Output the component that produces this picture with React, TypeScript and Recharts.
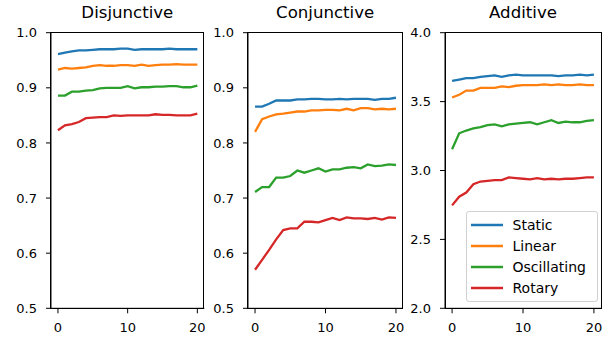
import React from "react";
import { LineChart, Line, XAxis, YAxis } from "recharts";

const steps = [0, 1, 2, 3, 4, 5, 6, 7, 8, 9, 10, 11, 12, 13, 14, 15, 16, 17, 18, 19, 20];
const seriesNames = ["Static", "Linear", "Oscillating", "Rotary"];
const colors = ["#1f77b4", "#ff7f0e", "#2ca02c", "#d62728"];

const disjStatic = [0.961, 0.964, 0.966, 0.968, 0.968, 0.969, 0.970, 0.970, 0.970, 0.971, 0.971, 0.969, 0.970, 0.970, 0.970, 0.970, 0.971, 0.970, 0.970, 0.970, 0.970];
const disjLinear = [0.933, 0.936, 0.935, 0.936, 0.937, 0.940, 0.941, 0.940, 0.940, 0.941, 0.941, 0.940, 0.942, 0.940, 0.941, 0.942, 0.942, 0.943, 0.942, 0.942, 0.942];
const disjOscillating = [0.886, 0.886, 0.893, 0.893, 0.895, 0.896, 0.899, 0.900, 0.900, 0.900, 0.903, 0.899, 0.901, 0.901, 0.902, 0.902, 0.903, 0.903, 0.901, 0.901, 0.904];
const disjRotary = [0.823, 0.832, 0.834, 0.838, 0.845, 0.846, 0.847, 0.847, 0.850, 0.849, 0.850, 0.850, 0.850, 0.850, 0.852, 0.851, 0.851, 0.850, 0.850, 0.850, 0.853];

const conjStatic = [0.866, 0.866, 0.871, 0.877, 0.877, 0.877, 0.879, 0.879, 0.880, 0.880, 0.879, 0.879, 0.880, 0.879, 0.880, 0.880, 0.880, 0.878, 0.880, 0.880, 0.882];
const conjLinear = [0.820, 0.843, 0.848, 0.852, 0.853, 0.855, 0.857, 0.857, 0.859, 0.859, 0.860, 0.860, 0.859, 0.862, 0.859, 0.863, 0.863, 0.861, 0.862, 0.861, 0.862];
const conjOscillating = [0.711, 0.720, 0.720, 0.737, 0.737, 0.740, 0.750, 0.746, 0.750, 0.754, 0.748, 0.752, 0.752, 0.755, 0.756, 0.754, 0.761, 0.758, 0.759, 0.761, 0.760];
const conjRotary = [0.570, 0.588, 0.606, 0.625, 0.642, 0.645, 0.645, 0.657, 0.657, 0.656, 0.660, 0.664, 0.660, 0.665, 0.663, 0.663, 0.662, 0.664, 0.661, 0.665, 0.664];

const addStatic = [3.65, 3.66, 3.67, 3.67, 3.68, 3.685, 3.69, 3.68, 3.69, 3.695, 3.69, 3.69, 3.69, 3.69, 3.69, 3.685, 3.69, 3.69, 3.695, 3.69, 3.695];
const addLinear = [3.53, 3.55, 3.58, 3.58, 3.60, 3.60, 3.60, 3.61, 3.605, 3.615, 3.62, 3.62, 3.62, 3.625, 3.62, 3.625, 3.62, 3.62, 3.625, 3.62, 3.62];
const addOscillating = [3.154, 3.27, 3.29, 3.305, 3.315, 3.33, 3.335, 3.32, 3.335, 3.34, 3.345, 3.35, 3.335, 3.35, 3.365, 3.345, 3.355, 3.35, 3.35, 3.36, 3.365];
const addRotary = [2.747, 2.81, 2.84, 2.90, 2.92, 2.925, 2.93, 2.93, 2.95, 2.945, 2.94, 2.935, 2.945, 2.935, 2.94, 2.935, 2.94, 2.94, 2.945, 2.95, 2.95];

const xTicks = [0, 10, 20];
const accTicks = [0.5, 0.6, 0.7, 0.8, 0.9, 1.0];
const addTicks = [2.0, 2.5, 3.0, 3.5, 4.0];

function buildRows(values: number[][]) {
  return steps.map((s, i) => {
    const row: Record<string, number> = { step: s };
    seriesNames.forEach((n, k) => {
      row[n] = values[k][i];
    });
    return row;
  });
}

const FONT = "'DejaVu Sans', sans-serif";
const AXIS_W = 45;
const PLOT_TOP = 32.7;
const PLOT_BOTTOM = 308.3;
const H = 341;

// legend drawn as plain html, the recharts one eats plot space
function LegendBox() {
  return (
    <div
      style={{
        position: "absolute",
        left: 20,
        top: 211 - PLOT_TOP,
        width: 126,
        border: "1px solid #d0d0d0",
        borderRadius: 3,
        background: "rgba(255,255,255,0.8)",
        padding: "2px 0 3px 4px",
        fontFamily: FONT,
        fontSize: 14,
        color: "#000",
      }}
    >
      {seriesNames.map((n, k) => (
        <div key={n} style={{ display: "flex", alignItems: "center", height: 21 }}>
          <svg width={32} height={4} style={{ marginRight: 10 }}>
            <line x1={0} y1={2} x2={32} y2={2} stroke={colors[k]} strokeWidth={2.5} />
          </svg>
          <span>{n}</span>
        </div>
      ))}
    </div>
  );
}

interface PanelProps {
  title: string;
  values: number[][];
  yDomain: [number, number];
  yTicks: number[];
  plotLeft: number;
  plotRight: number;
  showLegend?: boolean;
}

function Panel({ title, values, yDomain, yTicks, plotLeft, plotRight, showLegend }: PanelProps) {
  const data = buildRows(values);
  const plotW = plotRight - plotLeft;
  const width = AXIS_W + plotW + 2;
  const tickStyle = { fill: "#000", fontSize: 13, fontFamily: FONT };
  return (
    <div style={{ position: "absolute", left: plotLeft - AXIS_W, top: 0, width, height: H }}>
      <div
        style={{
          position: "absolute",
          left: AXIS_W,
          width: plotW,
          top: 3,
          textAlign: "center",
          fontFamily: FONT,
          fontSize: 16.6,
          color: "#000",
        }}
      >
        {title}
      </div>
      <LineChart
        width={width}
        height={H}
        data={data}
        margin={{ top: PLOT_TOP, right: 2, bottom: 0, left: 0 }}
      >
        <XAxis
          dataKey="step"
          type="number"
          domain={[-1, 21]}
          ticks={xTicks}
          height={H - PLOT_BOTTOM}
          stroke="#000"
          tickSize={5}
          tickMargin={9}
          tick={tickStyle}
          allowDataOverflow
        />
        <YAxis
          type="number"
          domain={yDomain}
          ticks={yTicks}
          width={AXIS_W}
          stroke="#000"
          tickSize={5}
          tickMargin={9}
          tick={tickStyle}
          tickFormatter={(v: number) => v.toFixed(1)}
          allowDataOverflow
        />
        {seriesNames.map((n, k) => (
          <Line
            key={n}
            dataKey={n}
            name={n}
            stroke={colors[k]}
            strokeWidth={2.3}
            dot={false}
            isAnimationActive={false}
            type="linear"
          />
        ))}
      </LineChart>
      {/* full box frame like matplotlib */}
      <div
        style={{
          position: "absolute",
          left: AXIS_W - 0.5,
          top: PLOT_TOP - 0.5,
          width: plotW + 1,
          height: PLOT_BOTTOM - PLOT_TOP + 1,
          border: "1px solid #000",
          boxSizing: "border-box",
          pointerEvents: "none",
        }}
      >
        {showLegend && <LegendBox />}
      </div>
    </div>
  );
}

export default function App() {
  return (
    <div style={{ position: "absolute", left: 0, top: 0, width: 611, height: 341, background: "#fff" }}>
      <Panel
        title="Disjunctive"
        values={[disjStatic, disjLinear, disjOscillating, disjRotary]}
        yDomain={[0.5, 1.0]}
        yTicks={accTicks}
        plotLeft={50.7}
        plotRight={204}
      />
      <Panel
        title="Conjunctive"
        values={[conjStatic, conjLinear, conjOscillating, conjRotary]}
        yDomain={[0.5, 1.0]}
        yTicks={accTicks}
        plotLeft={247.7}
        plotRight={402.7}
      />
      <Panel
        title="Additive"
        values={[addStatic, addLinear, addOscillating, addRotary]}
        yDomain={[2.0, 4.0]}
        yTicks={addTicks}
        plotLeft={445}
        plotRight={601}
        showLegend
      />
    </div>
  );
}
